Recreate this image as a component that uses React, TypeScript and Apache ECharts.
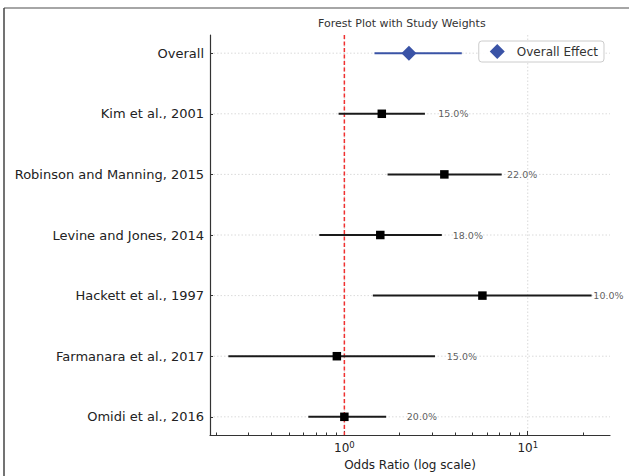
import React, { useEffect, useRef } from "react";
import * as echarts from "echarts";

const studies = [
  "Overall",
  "Kim et al., 2001",
  "Robinson and Manning, 2015",
  "Levine and Jones, 2014",
  "Hackett et al., 1997",
  "Farmanara et al., 2017",
  "Omidi et al., 2016",
];
const estimates = [2.25, 1.6, 3.51, 1.57, 5.66, 0.91, 1.0];
const lower = [1.46, 0.93, 1.72, 0.73, 1.43, 0.233, 0.636];
const upper = [4.37, 2.75, 7.21, 3.4, 22.3, 3.12, 1.69];
const weights = [null, 15.0, 22.0, 18.0, 10.0, 15.0, 20.0];
const majorTicks = [1, 10];
const minorTicks = [0.2, 0.3, 0.4, 0.5, 0.6, 0.7, 0.8, 0.9, 2, 3, 4, 5, 6, 7, 8, 9, 20];
const referenceOR = 1;

const FONT = "DejaVu Sans";
const BLUE = "#3a53a6";

export default function App() {
  const ref = useRef<HTMLDivElement>(null);
  useEffect(() => {
    if (!ref.current) return;
    const chart = echarts.init(ref.current, null, { renderer: "svg" });
    const rows = studies.map((_, i) => i);
    const option: any = {
      animation: false,
      backgroundColor: "#fff",
      textStyle: { fontFamily: FONT },
      title: {
        text: "Forest Plot with Study Weights",
        left: 318,
        top: 18,
        padding: 0,
        textStyle: { fontFamily: FONT, fontSize: 11, fontWeight: "normal", color: "#333" },
      },
      legend: {
        data: [{ name: "Overall Effect", icon: "diamond", itemStyle: { color: BLUE, opacity: 1 } }],
        right: 25,
        top: 41,
        itemWidth: 15,
        itemHeight: 15,
        padding: [3, 6, 3, 11],
        borderColor: "#cccccc",
        borderWidth: 1,
        borderRadius: 3,
        backgroundColor: "rgba(255,255,255,0.9)",
        textStyle: { fontFamily: FONT, fontSize: 12, color: "#333", padding: [0, 0, 0, 7] },
      },
      grid: { left: 210, right: 19, top: 35, bottom: 41, containLabel: false },
      xAxis: [
        {
          type: "log",
          logBase: 10,
          min: 0.185,
          max: 28.1,
          position: "bottom",
          name: "Odds Ratio (log scale)",
          nameLocation: "middle",
          nameGap: 24,
          nameTextStyle: { fontFamily: FONT, fontSize: 12, color: "#222" },
          axisLine: { show: true, onZero: false, lineStyle: { color: "#333", width: 1.2 } },
          axisTick: { show: true, inside: true, length: 4, customValues: majorTicks, lineStyle: { color: "#333" } },
          axisLabel: {
            customValues: majorTicks,
            margin: 5,
            formatter: (v: number) => "{b|10}{s|" + Math.round(Math.log10(v)) + "}",
            rich: {
              b: { fontFamily: FONT, fontSize: 12, color: "#222" },
              s: { fontFamily: FONT, fontSize: 8.5, color: "#222", verticalAlign: "top", padding: [0, 0, 7, 0] },
            },
          },
          splitLine: { show: false },
        },
        {
          type: "log",
          logBase: 10,
          min: 0.185,
          max: 28.1,
          position: "bottom",
          offset: 0,
          axisLine: { show: false, onZero: false },
          axisTick: { show: true, inside: true, length: 2.5, customValues: minorTicks, lineStyle: { color: "#333" } },
          axisLabel: { show: false },
          splitLine: { show: false },
        },
      ],
      yAxis: {
        type: "value",
        min: -0.3,
        max: 6.3,
        inverse: true,
        axisLine: { show: true, onZero: false, lineStyle: { color: "#333", width: 1.2 } },
        axisTick: { show: true, inside: true, length: 3, customValues: rows, lineStyle: { color: "#333" } },
        axisLabel: {
          customValues: rows,
          margin: 6,
          formatter: (v: number) => studies[Math.round(v)],
          fontFamily: FONT,
          fontSize: 13,
          color: "#222",
        },
        splitLine: { show: false },
      },
      series: [
        {
          type: "custom",
          name: "hgrid",
          silent: true,
          z: 0,
          data: rows.map((i) => [1, i]),
          encode: { x: 0, y: 1 },
          renderItem: (params: any, api: any) => {
            const cs = params.coordSys;
            const y = api.coord([api.value(0), api.value(1)])[1];
            return {
              type: "line",
              shape: { x1: cs.x, y1: y, x2: cs.x + cs.width, y2: y },
              style: { stroke: "#d0d0d0", lineWidth: 0.8, lineDash: [1.5, 2] },
            };
          },
        },
        {
          type: "custom",
          name: "vgrid",
          silent: true,
          z: 0,
          data: majorTicks.map((t) => [t, 0]),
          encode: { x: 0, y: 1 },
          renderItem: (params: any, api: any) => {
            const cs = params.coordSys;
            const x = api.coord([api.value(0), api.value(1)])[0];
            return {
              type: "line",
              shape: { x1: x, y1: cs.y, x2: x, y2: cs.y + cs.height },
              style: { stroke: "#d0d0d0", lineWidth: 0.8, lineDash: [1.5, 2] },
            };
          },
        },
        {
          type: "custom",
          name: "ref",
          silent: true,
          z: 1,
          data: [[referenceOR, 0]],
          encode: { x: 0, y: 1 },
          renderItem: (params: any, api: any) => {
            const cs = params.coordSys;
            const x = api.coord([api.value(0), api.value(1)])[0];
            return {
              type: "line",
              shape: { x1: x, y1: cs.y, x2: x, y2: cs.y + cs.height },
              style: { stroke: "#f03030", lineWidth: 1.5, lineDash: [4, 2.5] },
            };
          },
        },
        {
          type: "custom",
          name: "ci",
          silent: true,
          z: 2,
          data: studies.map((_, i) => [lower[i], upper[i], i]),
          encode: { x: [0, 1], y: 2 },
          renderItem: (params: any, api: any) => {
            const a = api.coord([api.value(0), api.value(2)]);
            const b = api.coord([api.value(1), api.value(2)]);
            return {
              type: "line",
              shape: { x1: a[0], y1: a[1], x2: b[0], y2: b[1] },
              style: { stroke: params.dataIndex === 0 ? BLUE : "#1a1a1a", lineWidth: 2 },
            };
          },
        },
        {
          type: "scatter",
          name: "studies",
          z: 3,
          symbol: "rect",
          symbolSize: 8.5,
          itemStyle: { color: "#000", opacity: 1 },
          data: studies.slice(1).map((_, k) => [estimates[k + 1], k + 1]),
        },
        {
          type: "scatter",
          name: "Overall Effect",
          z: 4,
          symbol: "diamond",
          symbolSize: 15,
          itemStyle: { color: BLUE, opacity: 1 },
          data: [[estimates[0], 0]],
        },
        {
          type: "scatter",
          name: "weights",
          z: 5,
          symbolSize: 0,
          silent: true,
          data: studies
            .map((_, i) => (weights[i] == null ? null : [upper[i] + 0.5, i, weights[i]]))
            .filter((d) => d !== null),
          label: {
            show: true,
            position: "right",
            distance: 0,
            fontFamily: FONT,
            fontSize: 9.5,
            color: "#333",
            formatter: (p: any) => Number(p.value[2]).toFixed(1) + "%",
          },
        },
      ],
      graphic: [
        { type: "line", shape: { x1: 4, y1: 8, x2: 629, y2: 8 }, style: { stroke: "#888", lineWidth: 1.5 }, silent: true },
        { type: "line", shape: { x1: 4, y1: 8, x2: 4, y2: 476 }, style: { stroke: "#444", lineWidth: 1.5 }, silent: true },
      ],
    };
    chart.setOption(option);
    return () => chart.dispose();
  }, []);
  return (
    <div
      ref={ref}
      style={{ position: "fixed", left: 0, top: 0, width: 629, height: 476, background: "#fff" }}
    />
  );
}
